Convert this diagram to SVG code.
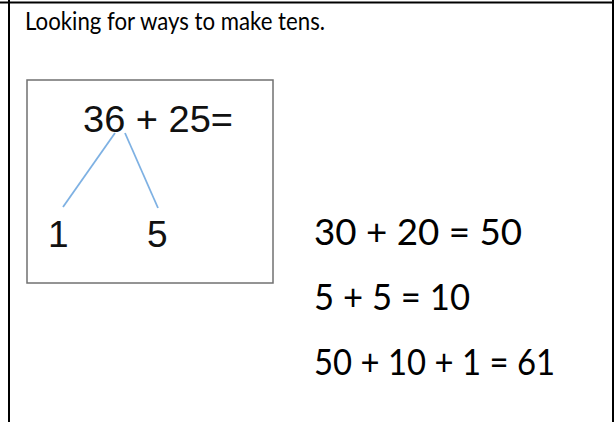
<svg xmlns="http://www.w3.org/2000/svg" width="614" height="422" viewBox="0 0 614 422">
<style>
.frame{stroke:#000;stroke-width:2;fill:none}
.box{stroke:#707070;stroke-width:1.5;fill:#fff}
.cal{font-family:Lato,"Open Sans","Liberation Sans",sans-serif;fill:#000}
.ari{font-family:"Liberation Sans",Arial,sans-serif;fill:#111;font-size:37px}
.conn{stroke:#7eb1e3;stroke-width:1.8;fill:none}
</style>
<rect width="614" height="422" fill="#fff"/>
<g id="frame">
<line class="frame" x1="0" y1="2.5" x2="614" y2="2.5"/>
<line class="frame" x1="9" y1="0" x2="9" y2="422"/>
<line class="frame" x1="613" y1="0" x2="613" y2="422"/>
</g>
<g id="title"><text class="cal" x="25" y="29.5" font-size="25.5" textLength="300" lengthAdjust="spacingAndGlyphs">Looking for ways to make tens.</text></g>
<g id="box"><rect class="box" x="27" y="80" width="246" height="203"/></g>
<g id="sum"><text class="ari" x="83" y="132" textLength="150" lengthAdjust="spacingAndGlyphs">36 + 25=</text></g>
<g id="n1"><text class="ari" x="48" y="247">1</text></g>
<g id="n5"><text class="ari" x="147" y="247">5</text></g>
<g id="connectors">
<line class="conn" x1="115" y1="133" x2="63" y2="207"/>
<line class="conn" x1="125" y1="133" x2="158" y2="208"/>
</g>
<g id="eq1"><text class="cal" x="314" y="245" font-size="37.5" textLength="208" lengthAdjust="spacingAndGlyphs">30 + 20 = 50</text></g>
<g id="eq2"><text class="cal" x="314" y="310" font-size="37.5" textLength="156" lengthAdjust="spacingAndGlyphs">5 + 5 = 10</text></g>
<g id="eq3"><text class="cal" x="314" y="375" font-size="37.5" textLength="241" lengthAdjust="spacingAndGlyphs">50 + 10 + 1 = 61</text></g>
</svg>
